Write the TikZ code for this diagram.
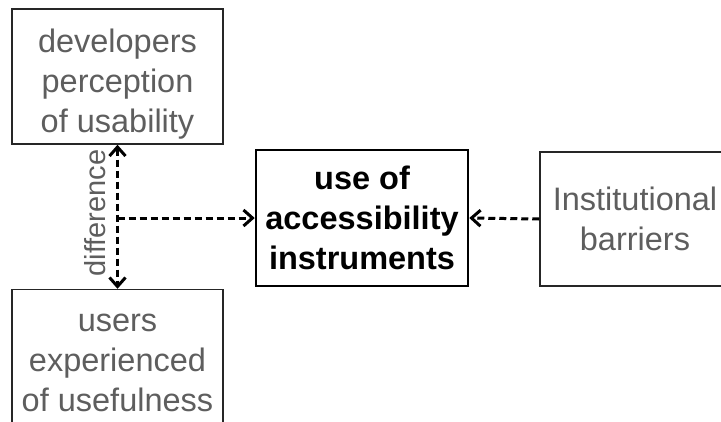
\documentclass[tikz,border=0pt]{standalone}
\usepackage{fontspec}
\setmainfont{Liberation Sans}
\usetikzlibrary{arrows.meta}
\definecolor{txtgray}{HTML}{5E5E5E}
\tikzset{
  >={Straight Barb[length=9pt,width=16pt]},
  factor/.style={draw=black!85, line width=1.5pt, text=txtgray, align=center,
    minimum width=211pt, minimum height=135pt, inner sep=0pt,
    font=\fontsize{32.5}{40}\selectfont},
  outcome/.style={draw=black, line width=2.5pt, align=center,
    minimum width=212pt, minimum height=136pt, inner sep=0pt,
    font=\fontsize{32.5}{40}\selectfont\bfseries},
  link/.style={line width=3pt, dash pattern=on 7pt off 4pt},
}
\begin{document}
\begin{tikzpicture}[x=1pt,y=-1pt]
    \useasboundingbox (0,0) rectangle (721,421);
    \clip (0,0) rectangle (721,421);

    % Boxes
    \node[factor, text height=118pt] (dev) at (117.5,76.5) {developers\\perception\\of usability};
    \node[factor, text height=107pt, minimum height=137pt] (usr) at (117.5,358) {users\\experienced\\of usefulness};
    \node[outcome] (use) at (362,218) {use of\\accessibility\\instruments};
    \node[factor, minimum width=190pt, minimum height=134pt] (bar) at (635,219) {Institutional\\barriers};

    % Difference between the two views
    \draw[link, <->] (dev.south) -- (usr.north);
    \coordinate (mid) at (dev.south |- use.west);
    \node[rotate=90, text=txtgray, inner sep=0pt, font=\fontsize{29}{35}\selectfont] (diff) at (95,213) {difference};

    % Influences on use
    \draw[link, ->] (mid) -- (use.west);
    \draw[link, ->] (bar.west) -- (use.east);
\end{tikzpicture}
\end{document}
